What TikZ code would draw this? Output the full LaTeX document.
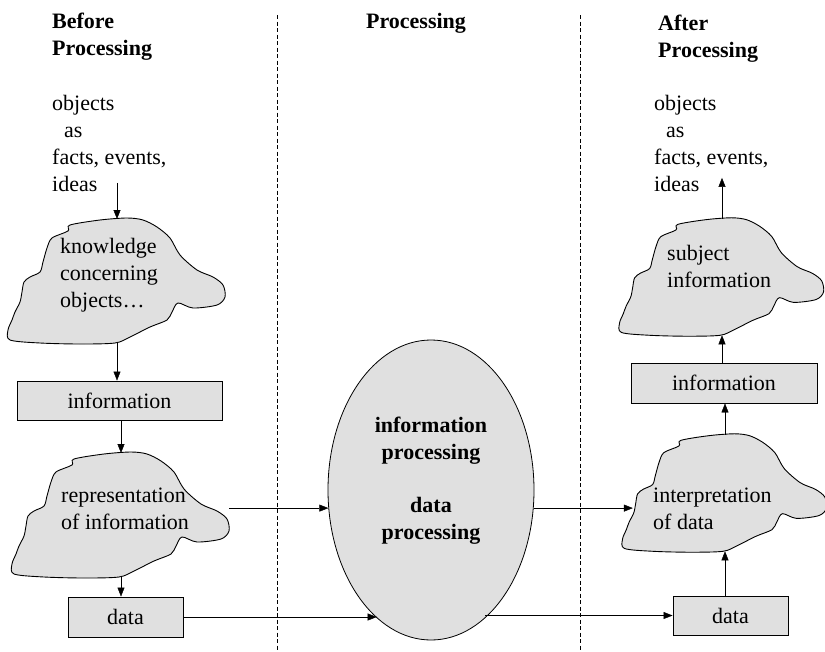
\documentclass[tikz,border=0pt]{standalone}
\usepackage{fontspec}
\setmainfont{Liberation Serif}
\usetikzlibrary{arrows.meta,shapes.geometric}
\tikzset{
  >={Triangle[length=9pt,width=7pt]},
  plain/.style={font=\fontsize{22}{27}\selectfont,inner sep=0pt,align=left},
  head/.style={font=\fontsize{22}{27}\selectfont\bfseries,inner sep=0pt,align=left},
  box/.style={draw,line width=.9pt,fill=black!12,inner sep=0pt,font=\fontsize{22}{27}\selectfont},
  blobline/.style={draw,line width=.9pt,fill=black!12},
  sep/.style={line width=.9pt,dash pattern=on 4pt off 2.5pt},
  pics/blob/.style={code={
    \draw[blobline] plot[smooth cycle,tension=.5] coordinates {(10,-63) (26,-61) (40,-54) (53,-43) (63,-26) (80,-11) (96,-4) (106,4) (108,16) (100,24) (76,27) (61,22) (55,31) (50,39) (33,46) (13,56) (-2,62) (-37,63) (-77,62) (-107,59) (-109,49) (-105,39) (-102,31) (-97,21) (-95,11) (-93,1) (-87,-4) (-77,-9) (-74,-19) (-70,-33) (-65,-43) (-49,-50) (-47,-56) (-17,-61)};
    \coordinate (-top) at (0,-62);
    \coordinate (-bot) at (0,62);
    \coordinate (-east) at (108,16);
    \coordinate (-west) at (-98,10);
  }},
}
\begin{document}
\begin{tikzpicture}[x=1pt,y=-1pt]
\useasboundingbox (0,0) rectangle (825,651);
% the three columns
\draw[sep] (277,15) -- (277,651);
\draw[sep] (580,15) -- (580,651);
\node[head,anchor=north west] (headL) at (52,13) {Before\\Processing};
\node[head,anchor=base] (headM) at (416,28) {Processing};
\node[head,anchor=north west] (headR) at (658,15) {After\\Processing};
\node[plain,anchor=north west] (objL) at (52,95) {objects\\\hspace*{12pt}as\\facts, events,\\ideas};
\node[plain,anchor=north west] (objR) at (654,95) {objects\\\hspace*{12pt}as\\facts, events,\\ideas};
% clouds
\pic (know) at (117,281) {blob};
\pic (rep) at (121,515) {blob};
\pic[scale=.94] (subj) at (722,277) {blob};
\pic[scale=.94] (int) at (725,493) {blob};
\node[plain,anchor=north west] (knowtxt) at (60,238) {knowledge\\concerning\\objects\ldots};
\node[plain,anchor=north west] (reptxt) at (61,488) {representation\\of information};
\node[plain,anchor=north west] (subjtxt) at (667,245) {subject\\information};
\node[plain,anchor=north west] (inttxt) at (653,488) {interpretation\\of data};
% boxes
\node[box,minimum width=205pt,minimum height=39pt] (infoL) at (119.5,400.5) {information};
\node[box,minimum width=115pt,minimum height=40pt] (dataL) at (125.5,617) {data};
\node[box,minimum width=186pt,minimum height=40pt] (infoR) at (724,383) {information};
\node[box,minimum width=115pt,minimum height=39pt] (dataR) at (730.5,615.5) {data};
% processing
\node[ellipse,draw,line width=.8pt,fill=black!12,minimum width=206pt,minimum height=300pt,inner sep=0pt] (proc) at (431,490) {};
\node[head,align=center] (proctxt) at (431,481) {information\\processing\\[26pt]data\\processing};
% arrows
\draw[->,shorten <=-9pt] (objL.south -| know-top) -- (know-top);
\draw[->] (know-bot) -- (know-bot |- infoL.north);
\draw[->] (infoL.south -| rep-top) -- (rep-top);
\draw[->] (rep-bot) -- (rep-bot |- dataL.north);
\draw[->] (rep-east |- proc.190) -- (proc.190);
\draw[->] (dataL.east) -- (dataL.east -| proc.247);
\draw[->] (proc.350) -- (proc.350 -| int-west);
\draw[->] (dataR.west -| proc.293) -- (dataR.west);
\draw[->] (dataR.north -| int-bot) -- (int-bot);
\draw[->] (int-top) -- (int-top |- infoR.south);
\draw[->] (infoR.north -| subj-bot) -- (subj-bot);
\draw[->,shorten >=-14pt] (subj-top) -- (subj-top |- objR.south);
\end{tikzpicture}
\end{document}
